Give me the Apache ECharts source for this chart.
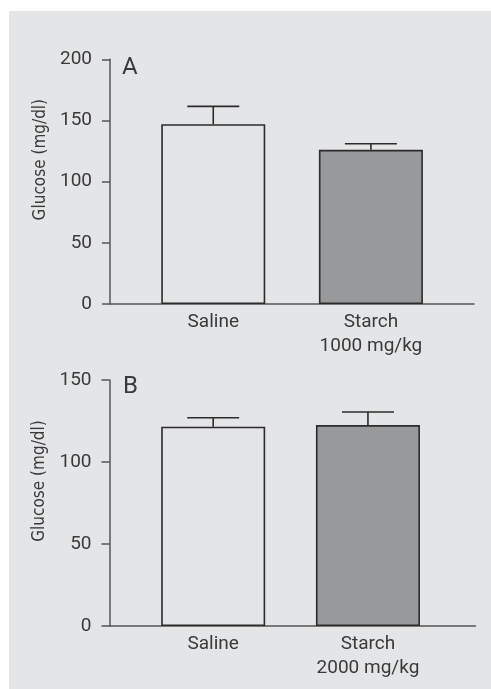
<!DOCTYPE html>
<html lang="en">
<head>
	<meta charset="UTF-8">
	<title>Glucose - saline vs starch</title>
	<script src="https://cdn.jsdelivr.net/npm/echarts@6/dist/echarts.min.js"></script>
	<style>
		html, body { margin: 0; padding: 0; background: #ffffff; }
		/* grey panel, offset like the printed figure */
		#chart {
			position: absolute;
			left: 9px;
			top: 11px;
			width: 482px;
			height: 678px;
			background: #e4e5e7;
		}
	</style>
</head>
<body>
	<div id="chart"></div>
	<script>
		// panel A data
		var labelsA = ['Saline', 'Starch\n1000 mg/kg'];
		var meanA = [147, 126];
		var semA = [14.5, 5];
		// panel B data
		var labelsB = ['Saline', 'Starch\n2000 mg/kg'];
		var meanB = [121.5, 122.5];
		var semB = [5.5, 8];
		// y axis ranges
		var yMaxA = 200, yStepA = 50;
		var yMaxB = 150, yStepB = 50;

		var txt = '#3a3a3a';
		var ink = '#2b2b2b';
		var font = 'Roboto, "Liberation Sans", sans-serif';

		function pts(vals) {
			return vals.map(function (v, i) { return [i + 1, v]; });
		}
		function errPts(vals, errs) {
			return vals.map(function (v, i) { return [i + 1, v, v + errs[i]]; });
		}

		// upward error bar with cap
		function renderErr(params, api) {
			var x = api.value(0);
			var base = api.coord([x, api.value(1)]);
			var top = api.coord([x, api.value(2)]);
			var half = 26;
			var st = { stroke: ink, lineWidth: 1.6 };
			return {
				type: 'group',
				children: [
					{ type: 'line', shape: { x1: base[0], y1: base[1], x2: top[0], y2: top[1] }, style: st },
					{ type: 'line', shape: { x1: top[0] - half, y1: top[1], x2: top[0] + half, y2: top[1] }, style: st }
				]
			};
		}

		function xAxisFor(idx, labels, min, max) {
			return {
				type: 'value', gridIndex: idx, min: min, max: max,
				axisLine: { show: true, onZero: false, lineStyle: { color: '#555', width: 1.5 } },
				axisTick: { show: false },
				splitLine: { show: false },
				axisLabel: {
					customValues: [1, 2],
					formatter: function (v) { return labels[Math.round(v) - 1]; },
					color: txt, fontFamily: font, fontSize: 19, lineHeight: 24, margin: 6
				}
			};
		}

		function yAxisFor(idx, max, step) {
			return {
				type: 'value', gridIndex: idx, min: 0, max: max, interval: step,
				name: 'Glucose (mg/dl)', nameLocation: 'middle', nameGap: 55,
				nameTextStyle: {
					color: txt, fontSize: 17,
					fontFamily: '"Liberation Sans Narrow", "DejaVu Sans Condensed", sans-serif',
					padding: [0, 0, 0, 44]
				},
				axisLine: { show: true, lineStyle: { color: '#555', width: 1.5 } },
				axisTick: { show: true, length: 8, lineStyle: { color: '#555', width: 1.5 } },
				splitLine: { show: false },
				axisLabel: { color: txt, fontFamily: font, fontSize: 19, margin: 18 }
			};
		}

		function barSeries(idx, vals) {
			return {
				type: 'bar', xAxisIndex: idx, yAxisIndex: idx,
				barWidth: 104,
				data: pts(vals),
				itemStyle: {
					color: function (p) { return p.dataIndex === 0 ? 'rgba(0,0,0,0)' : '#98999b'; },
					borderColor: ink, borderWidth: 1.6
				},
				silent: true
			};
		}

		function errSeries(idx, vals, errs) {
			return {
				type: 'custom', xAxisIndex: idx, yAxisIndex: idx,
				data: errPts(vals, errs),
				encode: { x: 0, y: [1, 2] },
				renderItem: renderErr,
				silent: true, z: 3
			};
		}

		var chart = echarts.init(document.getElementById('chart'));
		chart.setOption({
			animation: false,
			title: [
				{ text: 'A', left: 108, top: 40, textStyle: { color: txt, fontSize: 24, fontWeight: 'normal', fontFamily: font } },
				{ text: 'B', left: 109, top: 359, textStyle: { color: txt, fontSize: 24, fontWeight: 'normal', fontFamily: font } }
			],
			grid: [
				{ left: 101, top: 48.3, width: 364, height: 244.7 },
				{ left: 100.5, top: 369, width: 366, height: 246 }
			],
			xAxis: [
				xAxisFor(0, labelsA, 0.345, 2.654),
				xAxisFor(1, labelsB, 0.33, 2.695)
			],
			yAxis: [
				yAxisFor(0, yMaxA, yStepA),
				yAxisFor(1, yMaxB, yStepB)
			],
			series: [
				barSeries(0, meanA),
				errSeries(0, meanA, semA),
				barSeries(1, meanB),
				errSeries(1, meanB, semB)
			]
		});
	</script>
</body>
</html>
